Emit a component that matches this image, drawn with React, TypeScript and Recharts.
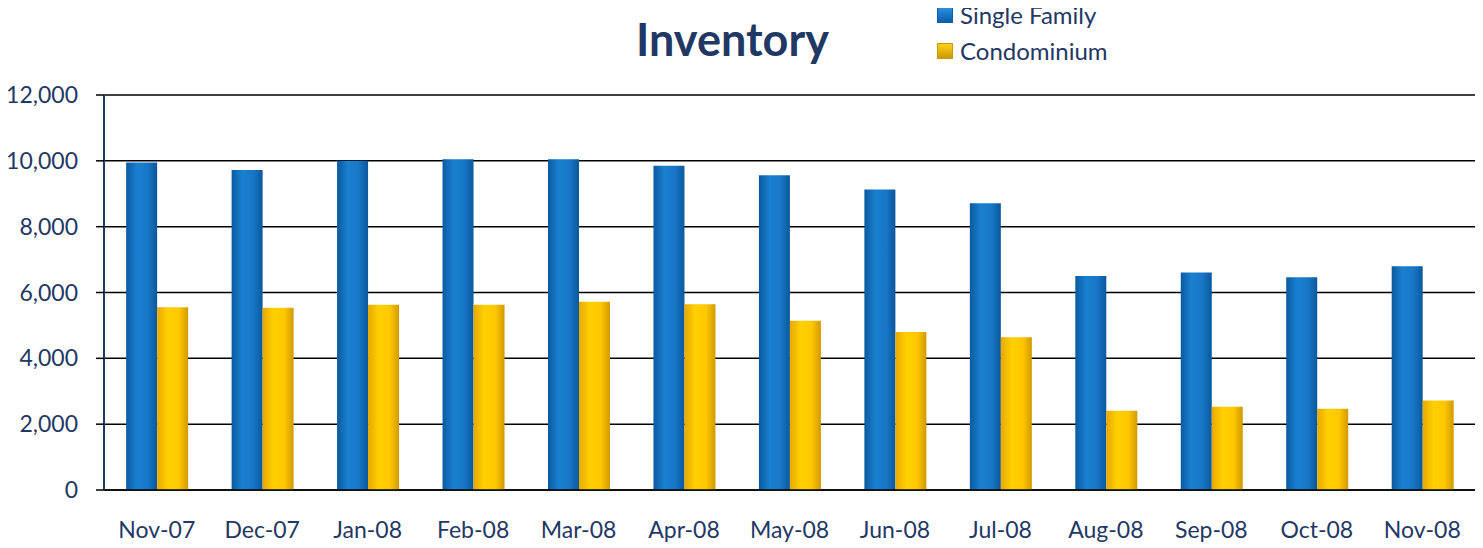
import React from "react";
import { BarChart, Bar, XAxis, YAxis, CartesianGrid } from "recharts";

const months = ["Nov-07", "Dec-07", "Jan-08", "Feb-08", "Mar-08", "Apr-08", "May-08", "Jun-08", "Jul-08", "Aug-08", "Sep-08", "Oct-08", "Nov-08"];
const singleFamily = [9950, 9720, 10000, 10050, 10050, 9850, 9560, 9130, 8710, 6500, 6610, 6460, 6800];
const condominium = [5550, 5540, 5630, 5630, 5720, 5640, 5140, 4800, 4640, 2410, 2530, 2470, 2720];
const yTicks = [0, 2000, 4000, 6000, 8000, 10000, 12000];
const seriesNames = ["Single Family", "Condominium"];

const data = months.map((m, i) => ({ month: m, sf: singleFamily[i], condo: condominium[i] }));

const FONT = "Lato, 'Open Sans', sans-serif";
const NAVY = "#1F3864";

const legendItems = [
  { label: seriesNames[0], c1: "#0b5ea8", c2: "#2a8fe0" },
  { label: seriesNames[1], c1: "#c99a00", c2: "#ffd21a" },
];

export default function App() {
  return (
    <div style={{ position: "relative", width: 1483, height: 540, marginLeft: -8 }}>
      <div
        style={{
          position: "absolute",
          left: 636,
          top: 4,
          fontFamily: FONT,
          fontWeight: 700,
          fontSize: 45,
          color: NAVY,
        }}
      >
        Inventory
      </div>
      <div
        style={{
          position: "absolute",
          left: 937,
          top: -11,
          fontFamily: FONT,
          fontSize: 24,
          color: NAVY,
          lineHeight: "36px",
        }}
      >
        {legendItems.map((it) => (
          <div key={it.label} style={{ display: "flex", alignItems: "center" }}>
            <span
              style={{
                display: "inline-block",
                width: 14,
                height: 14,
                marginRight: 7,
                background: `linear-gradient(180deg, ${it.c2}, ${it.c1})`,
                border: `1px solid ${it.c1}`,
              }}
            />
            {it.label}
          </div>
        ))}
      </div>
      <BarChart
        width={1483}
        height={540}
        data={data}
        margin={{ top: 87, right: 8, bottom: 16, left: 0 }}
        barCategoryGap="21%"
        barGap={0}
      >
        <defs>
          <linearGradient id="gBlue" x1="0" y1="0" x2="1" y2="0">
            <stop offset="0%" stopColor="#0a5aa0" />
            <stop offset="35%" stopColor="#1a80d0" />
            <stop offset="70%" stopColor="#1877c6" />
            <stop offset="100%" stopColor="#0a589c" />
          </linearGradient>
          <linearGradient id="gYellow" x1="0" y1="0" x2="1" y2="0">
            <stop offset="0%" stopColor="#e8a800" />
            <stop offset="35%" stopColor="#ffd000" />
            <stop offset="70%" stopColor="#ffc800" />
            <stop offset="100%" stopColor="#d09a00" />
          </linearGradient>
        </defs>
        <CartesianGrid vertical={false} stroke="#000" strokeWidth={1.5} />
        <XAxis
          dataKey="month"
          height={42}
          tickLine={false}
          axisLine={{ stroke: "#000", strokeWidth: 1.5 }}
          tick={{ fill: NAVY, fontSize: 23, fontFamily: FONT, dy: 24 }}
          interval={0}
        />
        <YAxis
          width={104}
          domain={[0, 12000]}
          ticks={yTicks}
          interval={0}
          tickFormatter={(v: number) => v.toLocaleString("en-US")}
          axisLine={{ stroke: NAVY, strokeWidth: 2 }}
          tickLine={{ stroke: "#000", strokeWidth: 1.5 }}
          tickSize={8}
          tick={{ fill: NAVY, fontSize: 23, fontFamily: FONT, dx: -16 }}
        />
        <Bar dataKey="sf" name={seriesNames[0]} fill="url(#gBlue)" isAnimationActive={false} />
        <Bar dataKey="condo" name={seriesNames[1]} fill="url(#gYellow)" isAnimationActive={false} />
      </BarChart>
    </div>
  );
}
